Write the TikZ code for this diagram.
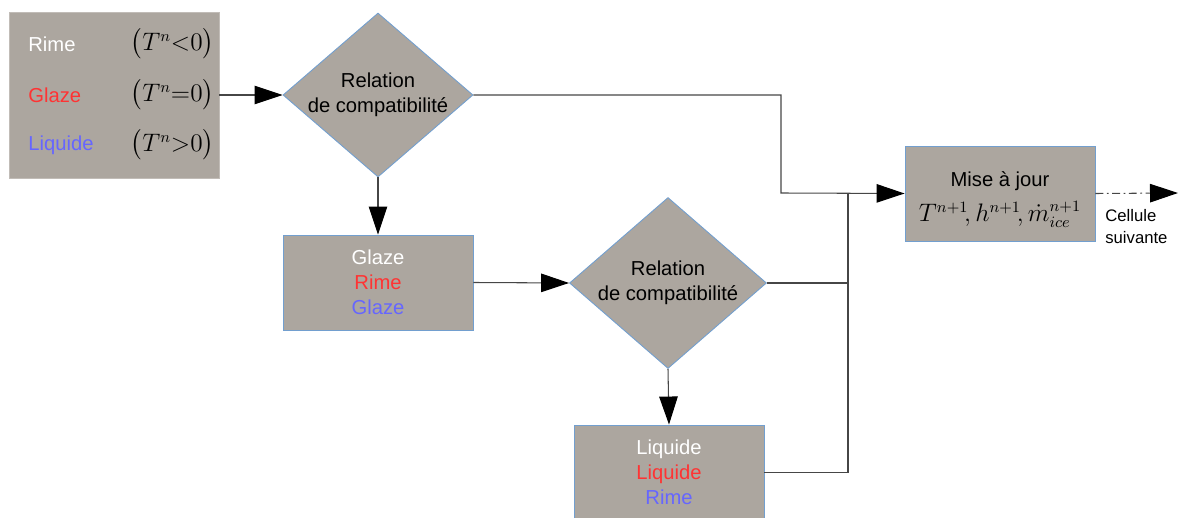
\documentclass[tikz,border=0pt]{standalone}
\usepackage{amsmath}
\usepackage{fontspec}
\setmainfont{Liberation Sans}
\usetikzlibrary{arrows.meta,shapes.geometric}

\definecolor{boxgray}{RGB}{172,166,159}
\definecolor{boxedge}{RGB}{114,159,207}
\definecolor{rimered}{RGB}{255,51,51}
\definecolor{liqblue}{RGB}{102,102,255}
\definecolor{linegray}{RGB}{70,70,70}

\begin{document}
\begin{tikzpicture}[
        state/.style={
            rectangle,
            draw=boxedge,
            fill=boxgray,
            line width=0.5pt,
            align=center,
            minimum width=3.8cm,
            minimum height=1.9cm,
            font=\fontsize{11.5}{14.2}\selectfont,
            inner sep=0pt
        },
        decision/.style={
            diamond,
            draw=boxedge,
            fill=boxgray,
            line width=0.5pt,
            inner sep=0pt
        },
        txt/.style={
            align=center,
            font=\fontsize{11.5}{14.2}\selectfont,
            inner sep=0pt
        },
        mathtxt/.style={
            font=\fontsize{13.5}{16}\selectfont,
            inner sep=0pt
        },
        arrow/.style={-{Triangle[length=0.56cm,width=0.37cm,color=black]}, draw=linegray, line width=0.6pt},
        link/.style={draw=linegray, line width=0.6pt}
    ]

        \useasboundingbox (0,0) rectangle (23.6,10.36);
        \clip (0,0) rectangle (23.6,10.36);

        % Initial state
        \node[rectangle, fill=boxgray, draw=boxgray!75!white, minimum width=4.2cm, minimum height=3.32cm] (init) at (2.28,8.46) {};
        \node[txt, anchor=west, text=white] (rime) at (0.56,9.48) {Rime};
        \node[txt, anchor=west, text=rimered] (glaze) at (0.56,8.46) {Glaze};
        \node[txt, anchor=west, text=liqblue] (liquide) at (0.56,7.46) {Liquide};
        \node[mathtxt] (tneg) at (3.45,9.48) {$\bigl(T^{n}{<}0\bigr)$};
        \node[mathtxt] (tzero) at (3.45,8.46) {$\bigl(T^{n}{=}0\bigr)$};
        \node[mathtxt] (tpos) at (3.45,7.46) {$\bigl(T^{n}{>}0\bigr)$};

        % Compatibility tests
        \node[decision, minimum width=3.8cm, minimum height=3.28cm] (rel1) at (7.56,8.46) {};
        \node[txt] (rel1txt) at (rel1) {Relation\\de compatibilité};
        \node[state] (glazebox) at (7.56,4.71) {\textcolor{white}{Glaze}\\\textcolor{rimered}{Rime}\\\textcolor{liqblue}{Glaze}};
        \node[decision, minimum width=3.94cm, minimum height=3.42cm] (rel2) at (13.36,4.70) {};
        \node[txt] (rel2txt) at (rel2) {Relation\\de compatibilité};
        \node[state] (liqbox) at (13.38,0.91) {\textcolor{white}{Liquide}\\\textcolor{rimered}{Liquide}\\\textcolor{liqblue}{Rime}};

        % Update
        \node[state] (update) at (20.0,6.49) {};
        \node[txt] (updtxt) at (20.0,6.73) {Mise à jour};
        \node[mathtxt] (updmath) at (20.0,6.08) {$T^{n+1}\!,h^{n+1}\!,\dot{m}_{ice}^{n+1}$};
        \coordinate (bend) at (15.62,6.5);
        \coordinate (merge) at (16.96,6.5);
        \coordinate (next) at (23.56,6.5);
        \node[txt, align=left, anchor=west, font=\fontsize{9.5}{12}\selectfont] (nextlbl) at (22.1,5.83) {Cellule\\suivante};

        % Arrows
        \draw[arrow] (init.east) -- (rel1.west);
        \draw[arrow] (rel1.south) -- (glazebox.north);
        \draw[arrow] (glazebox.east) -- (rel2.west);
        \draw[arrow] (rel2.south) -- (liqbox.north);
        \draw[arrow] (rel1.east) -| (bend) -- (update.west);
        \draw[link] (rel2.east) -| (merge);
        \draw[link] (liqbox.east) -| (merge);
        \draw[arrow, dash pattern=on 4.5pt off 2pt on 1pt off 2pt] (update.east) -- (next);

    \end{tikzpicture}
\end{document}
